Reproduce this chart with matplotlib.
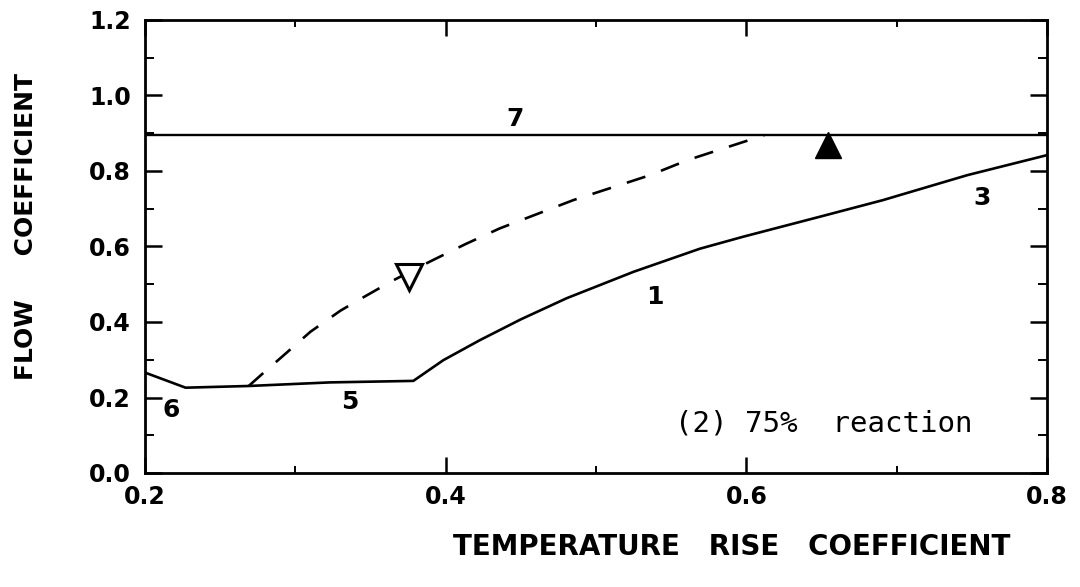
import matplotlib
matplotlib.use("Agg")
import matplotlib.pyplot as plt
from matplotlib.ticker import MultipleLocator

plt.rcParams['lines.scale_dashes'] = False

# curve 1/5/6 (solid lower boundary)
solid_x = [0.200, 0.227, 0.269, 0.323, 0.3785, 0.3985, 0.4228, 0.450,
           0.4805, 0.525, 0.569, 0.598, 0.650, 0.691, 0.702, 0.747, 0.800]
solid_y = [0.266, 0.226, 0.2305, 0.240, 0.244, 0.299, 0.352, 0.407,
           0.463, 0.533, 0.594, 0.626, 0.680, 0.723, 0.736, 0.789, 0.842]

# dashed curve
dash_x = [0.269, 0.279, 0.290, 0.310, 0.330, 0.342, 0.353, 0.365, 0.3885,
          0.4007, 0.413, 0.436, 0.485, 0.536, 0.561, 0.612]
dash_y = [0.2305, 0.266, 0.304, 0.374, 0.430, 0.458, 0.483, 0.510, 0.558,
          0.582, 0.606, 0.648, 0.723, 0.789, 0.829, 0.895]

# line 7
line7_y = 0.895

# markers
open_tri = (0.3756, 0.518)
filled_tri = (0.654, 0.870)

# curve labels
labels = ['1', '3', '5', '6', '7']
label_x = [0.539, 0.7566, 0.3364, 0.2177, 0.446]
label_y = [0.466, 0.728, 0.189, 0.167, 0.937]

fig = plt.figure(figsize=(10.8, 5.87), dpi=100)
ax = fig.add_axes([145 / 1080, 1 - 473 / 587, 902 / 1080, 453 / 587])

ax.plot(solid_x, solid_y, color='black', lw=1.9)
ax.plot(dash_x, dash_y, color='black', lw=1.9, dashes=(14, 12))
ax.axhline(line7_y, color='black', lw=1.7)

ax.plot(*open_tri, marker='v', markersize=19, mfc='white', mec='black', mew=2.2, zorder=5)
ax.plot(*filled_tri, marker='^', markersize=19, color='black', zorder=5)

for t, x, y in zip(labels, label_x, label_y):
    ax.text(x, y, t, ha='center', va='center', fontsize=18, fontweight='bold',
            family='DejaVu Sans')

ax.text(0.5526, 0.131, '(2) 75%  reaction', ha='left', va='center',
        fontsize=21, family='DejaVu Sans Mono')

ax.set_xlim(0.2, 0.8)
ax.set_ylim(0.0, 1.2)
ax.xaxis.set_major_locator(MultipleLocator(0.2))
ax.xaxis.set_minor_locator(MultipleLocator(0.1))
ax.yaxis.set_major_locator(MultipleLocator(0.2))
ax.yaxis.set_minor_locator(MultipleLocator(0.1))
ax.set_xticklabels([f'{v:.1f}' for v in ax.get_xticks()])
ax.set_yticklabels([f'{v:.1f}' for v in ax.get_yticks()])

ax.tick_params(axis='x', which='major', direction='in', length=11.5, width=1.8,
               top=True, pad=9, labelsize=17)
ax.tick_params(axis='x', which='minor', direction='in', length=5, width=1.4, top=True)
ax.tick_params(axis='y', which='major', direction='in', length=12, width=1.8,
               right=True, pad=10, labelsize=17)
ax.tick_params(axis='y', which='minor', direction='in', length=6.5, width=1.4, right=True)
for lab in ax.get_xticklabels() + ax.get_yticklabels():
    lab.set_fontweight('bold')

for s in ax.spines.values():
    s.set_linewidth(2.0)

fig.text(732 / 1080, 1 - 547 / 587, 'TEMPERATURE   RISE   COEFFICIENT', ha='center',
         va='center', fontsize=20, fontweight='bold')
fig.text(26 / 1080, 1 - 226 / 587, 'FLOW     COEFFICIENT', ha='center', va='center',
         rotation=90, fontsize=18, fontweight='bold')

fig.savefig('out.png', dpi=100)
